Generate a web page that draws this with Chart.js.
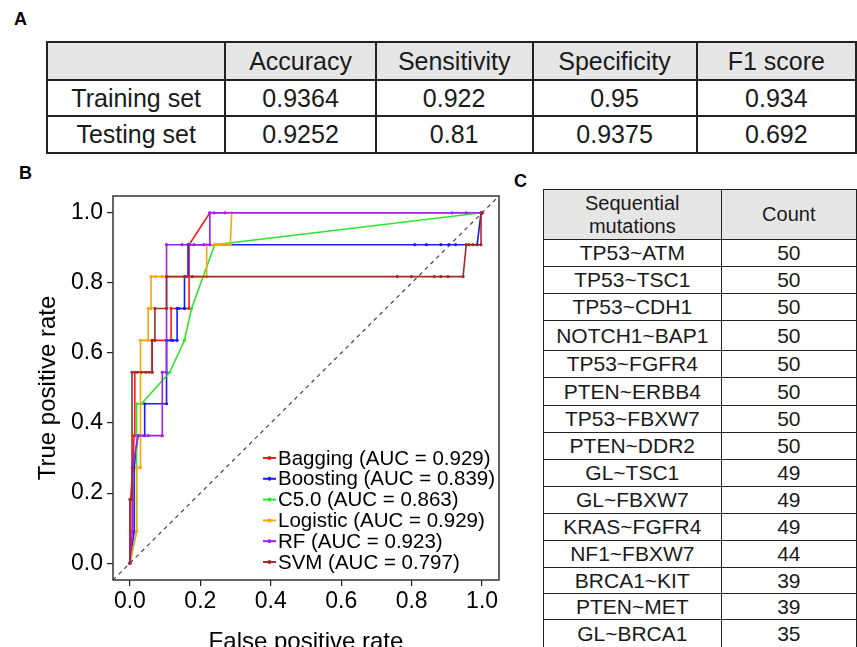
<!DOCTYPE html>
<html>
<head>
<meta charset="utf-8">
<script src="https://cdn.jsdelivr.net/npm/chart.js@4.4.1/dist/chart.umd.min.js"></script>
<style>
  html, body { margin:0; padding:0; width:857px; height:647px; overflow:hidden; background:#fff; }
  body { position:relative; font-family:"Liberation Sans", Arial, sans-serif; color:#1a1a1a; }
  .lbl { position:absolute; font-weight:bold; font-size:18px; color:#000; }
  table { position:absolute; border-collapse:collapse; table-layout:fixed; }
  td { text-align:center; vertical-align:middle; padding:0; overflow:hidden; white-space:nowrap; }
  #tA td { border:2px solid #222; font-size:25px; }
  #tA tr.hd td { background:#e6e6e6; }
  #tC td { border:1.5px solid #222; font-size:21px; }
  #tC tr.hd td { background:#e6e6e6; font-size:20px; line-height:23px; }
  #wrapB { position:absolute; left:0; top:160px; width:520px; height:500px; }
</style>
</head>
<body>
<div class="lbl" style="left:14px;top:9px;">A</div>
<div class="lbl" style="left:19px;top:163px;">B</div>
<div class="lbl" style="left:514px;top:171px;">C</div>
<table id="tA" style="left:46px;top:41px;"></table>
<table id="tC" style="left:543px;top:189px;"></table>
<div id="wrapB"><canvas id="roc" width="520" height="500"></canvas></div>
<script>
// ---------- Panel A data ----------
const metricNames = ['Accuracy', 'Sensitivity', 'Specificity', 'F1 score'];
const setNames = ['Training set', 'Testing set'];
const trainingValues = ['0.9364', '0.922', '0.95', '0.934'];
const testingValues = ['0.9252', '0.81', '0.9375', '0.692'];

// ---------- Panel C data ----------
const mutationHeader = ['Sequential<br>mutations', 'Count'];
const mutations = ['TP53~ATM','TP53~TSC1','TP53~CDH1','NOTCH1~BAP1','TP53~FGFR4','PTEN~ERBB4','TP53~FBXW7','PTEN~DDR2','GL~TSC1','GL~FBXW7','KRAS~FGFR4','NF1~FBXW7','BRCA1~KIT','PTEN~MET','GL~BRCA1'];
const mutationCounts = [50,50,50,50,50,50,50,50,49,49,49,44,39,39,35];

// ---------- Panel B data (ROC curves) ----------
const modelNames = ['Bagging', 'Boosting', 'C5.0', 'Logistic', 'RF', 'SVM'];
const modelAUC = ['0.929', '0.839', '0.863', '0.929', '0.923', '0.797'];

const fprBagging = [0, 0.002, 0.002, 0.008, 0.012, 0.014, 0.014, 0.063, 0.063, 0.117, 0.117, 0.139, 0.156, 0.168, 0.168, 0.227, 0.239, 0.270, 1.0];
const tprBagging = [0, 0.091, 0.182, 0.273, 0.364, 0.364, 0.545, 0.545, 0.636, 0.636, 0.727, 0.727, 0.727, 0.727, 0.909, 1.0, 1.0, 1.0, 1.0];

const fprBoosting = [0, 0.012, 0.012, 0.023, 0.042, 0.042, 0.104, 0.104, 0.122, 0.134, 0.134, 0.155, 0.155, 0.165, 0.165, 0.809, 0.842, 0.883, 0.906, 0.925, 0.986, 0.997, 1.0];
const tprBoosting = [0, 0.091, 0.273, 0.364, 0.364, 0.455, 0.455, 0.636, 0.636, 0.636, 0.727, 0.727, 0.818, 0.818, 0.909, 0.909, 0.909, 0.909, 0.909, 0.909, 0.909, 1.0, 1.0];

const fprC50 = [0, 0.019, 0.019, 0.033, 0.113, 0.155, 0.175, 0.241, 1.0];
const tprC50 = [0, 0.091, 0.455, 0.455, 0.545, 0.636, 0.727, 0.909, 1.0];

const fprLogistic = [0, 0.019, 0.019, 0.030, 0.030, 0.052, 0.052, 0.060, 0.060, 0.073, 0.092, 0.218, 0.218, 0.247, 0.258, 0.267, 0.285, 0.289, 1.0];
const tprLogistic = [0, 0.091, 0.273, 0.273, 0.636, 0.636, 0.727, 0.727, 0.818, 0.818, 0.818, 0.818, 0.909, 0.909, 0.909, 0.909, 0.909, 1.0, 1.0];

const fprRF = [0, 0.007, 0.007, 0.023, 0.052, 0.092, 0.092, 0.104, 0.104, 0.148, 0.182, 0.210, 0.227, 0.227, 0.915, 0.955, 1.0];
const tprRF = [0, 0.091, 0.273, 0.364, 0.364, 0.364, 0.545, 0.545, 0.909, 0.909, 0.909, 0.909, 0.909, 1.0, 1.0, 1.0, 1.0];

const fprSVM = [0, 0, 0.006, 0.006, 0.021, 0.033, 0.045, 0.054, 0.063, 0.063, 0.071, 0.071, 0.104, 0.104, 0.158, 0.177, 0.759, 0.799, 0.864, 0.883, 0.903, 0.946, 0.955, 0.963, 0.974, 0.997, 0.997, 1.0];
const tprSVM = [0, 0.182, 0.182, 0.545, 0.545, 0.545, 0.545, 0.545, 0.545, 0.636, 0.636, 0.727, 0.727, 0.818, 0.818, 0.818, 0.818, 0.818, 0.818, 0.818, 0.818, 0.818, 0.909, 0.909, 0.909, 0.909, 1.0, 1.0];

const axisTicks = [0.0, 0.2, 0.4, 0.6, 0.8, 1.0];
const axisMin = -0.048, axisMax = 1.048;
const xTitle = 'False positive rate';
const yTitle = 'True positive rate';

// ---------- build Table A ----------
(function(){
  const t = document.getElementById('tA');
  const colW = [182, 154, 160, 168, 164];
  const rowH = [38, 36, 37];
  let cg = '<colgroup>' + colW.map(w => `<col style="width:${w}px">`).join('') + '</colgroup>';
  let h = `<tr class="hd" style="height:${rowH[0]}px"><td></td>` + metricNames.map(m => `<td>${m}</td>`).join('') + '</tr>';
  const rows = [trainingValues, testingValues];
  rows.forEach((r, i) => {
    h += `<tr style="height:${rowH[i+1]}px"><td>${setNames[i]}</td>` + r.map(v => `<td>${v}</td>`).join('') + '</tr>';
  });
  t.innerHTML = cg + h;
})();

// ---------- build Table C ----------
(function(){
  const t = document.getElementById('tC');
  const colW = [182, 150];
  const rowH = [50, 27, 27, 27, 30, 27, 28, 27, 27, 27, 27, 27, 27, 26, 26, 32];
  let cg = '<colgroup>' + colW.map(w => `<col style="width:${w}px">`).join('') + '</colgroup>';
  let h = `<tr class="hd" style="height:${rowH[0]}px">` + mutationHeader.map(m => `<td>${m}</td>`).join('') + '</tr>';
  mutations.forEach((m, i) => {
    const last = i === mutations.length - 1;
    const st = last ? 'vertical-align:top;padding-top:2px;' : '';
    h += `<tr style="height:${rowH[i+1]}px"><td style="${st}">${m}</td><td style="${st}">${mutationCounts[i]}</td></tr>`;
  });
  t.innerHTML = cg + h;
})();

// ---------- Panel B chart ----------
const modelColors = ['#ff1a1a', '#1a1aff', '#2ee62e', '#ffa500', '#a020f0', '#a52a2a'];
const fprs = [fprBagging, fprBoosting, fprC50, fprLogistic, fprRF, fprSVM];
const tprs = [tprBagging, tprBoosting, tprC50, tprLogistic, tprRF, tprSVM];
const FONT = '"Liberation Sans", Arial, sans-serif';

const datasets = modelNames.map((name, i) => ({
  label: `${name} (AUC = ${modelAUC[i]})`,
  data: fprs[i].map((x, k) => ({x: x, y: tprs[i][k]})),
  borderColor: modelColors[i],
  backgroundColor: modelColors[i],
  borderWidth: 1.6,
  pointRadius: 1.6,
  pointHoverRadius: 1.6,
  pointBorderWidth: 0,
  showLine: true,
  tension: 0,
  order: modelNames.length - i
}));
datasets.push({
  label: 'chance',
  data: [{x: axisMin, y: axisMin}, {x: axisMax, y: axisMax}],
  borderColor: '#444',
  borderWidth: 1.2,
  borderDash: [4, 4],
  pointRadius: 0,
  showLine: true,
  order: 10
});

const framePlugin = {
  id: 'frame',
  afterDraw(chart) {
    const {ctx, chartArea: a} = chart;
    ctx.save();
    ctx.strokeStyle = '#333';
    ctx.lineWidth = 1.5;
    ctx.strokeRect(a.left, a.top, a.right - a.left, a.bottom - a.top);
    ctx.restore();
  }
};

const insideLegend = {
  id: 'insideLegend',
  afterDatasetsDraw(chart) {
    const {ctx, chartArea: a} = chart;
    ctx.save();
    ctx.font = '20.5px ' + FONT;
    ctx.textBaseline = 'middle';
    const n = modelNames.length;
    const rowH = 20.8;
    const x0 = a.left + 150;
    const yLast = a.bottom - 18;
    modelNames.forEach((name, i) => {
      const y = yLast - (n - 1 - i) * rowH;
      ctx.strokeStyle = modelColors[i];
      ctx.lineWidth = 2;
      ctx.beginPath(); ctx.moveTo(x0, y); ctx.lineTo(x0 + 13, y); ctx.stroke();
      ctx.fillStyle = modelColors[i];
      ctx.beginPath(); ctx.arc(x0 + 6.5, y, 2, 0, Math.PI * 2); ctx.fill();
      ctx.fillStyle = '#000';
      ctx.fillText(`${name} (AUC = ${modelAUC[i]})`, x0 + 15, y + 1);
    });
    ctx.restore();
  }
};

const setTicks = s => { s.ticks = axisTicks.map(v => ({value: v})); };

new Chart(document.getElementById('roc'), {
  type: 'scatter',
  data: { datasets },
  options: {
    responsive: false,
    animation: false,
    events: [],
    layout: { padding: { top: 36, right: 21, left: 0, bottom: 0 } },
    plugins: { legend: { display: false }, tooltip: { enabled: false } },
    scales: {
      x: {
        type: 'linear', min: axisMin, max: axisMax,
        afterBuildTicks: setTicks,
        afterFit: s => { s.height = 80; },
        border: { display: false },
        grid: { drawOnChartArea: false, drawTicks: true, tickLength: 6, color: '#222', lineWidth: 1.2 },
        ticks: { color: '#000', padding: 2, font: { size: 23, family: FONT }, callback: v => v.toFixed(1), maxRotation: 0, autoSkip: false },
        title: { display: true, text: xTitle, color: '#000', font: { size: 24, family: FONT }, padding: { top: 0, bottom: 3 } }
      },
      y: {
        type: 'linear', min: axisMin, max: axisMax,
        afterBuildTicks: setTicks,
        afterFit: s => { s.width = 113; },
        border: { display: false },
        grid: { drawOnChartArea: false, drawTicks: true, tickLength: 6, color: '#222', lineWidth: 1.2 },
        ticks: { color: '#000', padding: 4, font: { size: 23, family: FONT }, callback: v => v.toFixed(1), autoSkip: false },
        title: { display: true, text: yTitle, color: '#000', font: { size: 24, family: FONT }, padding: { top: 34, bottom: 0 } }
      }
    }
  },
  plugins: [framePlugin, insideLegend]
});
</script>
</body>
</html>
